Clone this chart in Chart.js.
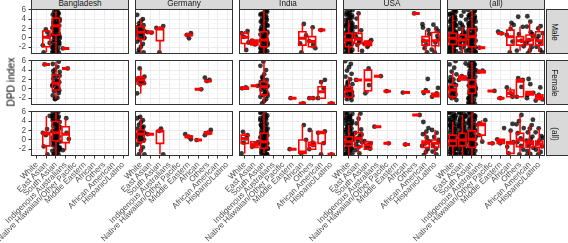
<!DOCTYPE html>
<html>
<head>
<meta charset="utf-8">
<script src="https://cdn.jsdelivr.net/npm/chart.js@4.4.0/dist/chart.umd.min.js"></script>
<style>
  body { margin: 0; background: #fff; width: 568px; height: 243px; overflow: hidden; position: relative; font-family: "Liberation Sans", Arial, sans-serif; }
  canvas { position: absolute; left: 0; top: 0; }
  .frame { position: absolute; border: 1px solid #333; box-sizing: border-box; pointer-events: none; }
  .strip { position: absolute; background: #d9d9d9; border: 1px solid #333; box-sizing: border-box; color: #1a1a1a; font-size: 8.2px; overflow: hidden; }
  .lbl { position: absolute; white-space: nowrap; transform-origin: center; font-weight: normal; }
</style>
</head>
<body>
<script>
const groups = ['White', 'East Asian', 'South Asian', 'Indigenous Australians', 'Native Hawaiian/Other Pacific',
  'Middle Eastern', 'African', 'Others', 'African American', 'Hispanic/Latino'];
const countries = ['Bangladesh', 'Germany', 'India', 'USA', '(all)'];
const sexes = ['Male', 'Female', '(all)'];
const yTicks = [-3, -2, -1, 0, 1, 2, 3, 4, 5, 6];

// hand-picked horizontal jitter offsets (in category units)
const jitter = [-0.28, 0.11, 0.34, -0.06, -0.37, 0.22, 0.02, -0.19, 0.29, -0.33, 0.15, -0.11, 0.38, -0.24, 0.07];

// dense point clouds
const cloudFull = [5.9, 5.55, 5.2, 4.95, 4.6, 4.35, 4.05, 3.8, 3.45, 3.2, 2.95, 2.6, 2.4, 2.1, 1.85, 1.5, 1.3, 0.95, 0.7, 0.45,
  0.15, -0.1, -0.4, -0.6, -0.95, -1.2, -1.45, -1.8, -2.0, -2.35, -2.6, -2.85, -3.15, -3.3, 5.75, 4.8, 3.6, 2.75, 1.65, 0.6,
  -0.25, -1.05, -1.95, -2.95, 5.1, 3.0, 1.0, -0.8, -2.2, 4.2, 2.2, 0.3, -1.6, -3.0];
const cloudMid = [5.6, 4.7, 3.9, 3.2, 2.35, 1.9, 1.4, 0.9, 0.6, 0.2, -0.2, -0.45, -0.8, -1.1, -1.55, -1.9, -2.3, -2.8, -3.3, 0.4, -1.3, 1.1, -0.6, 2.8];

// boxes: [group, lower whisker, q1, median, q3, upper whisker]
// points: [group, [values]]
const bgdMaleBox = [[2, -3.1, -1.9, 0.1, 1.45, 1.8], [3, -3.3, 0.6, 2.6, 4.2, 5.8], [4, -2.25, -2.25, -2.25, -2.25, -2.25]];
const bgdMalePts = [[2, [-3.1, 1.2, -1.1, 1.8, -1.6, 0.3]], [3, cloudFull], [4, [-2.25]]];
const bgdFemaleBox = [[2, 5.2, 5.2, 5.2, 5.2, 5.2], [3, -2.2, -0.25, 1.2, 2.9, 5.8], [4, 4.35, 4.35, 4.35, 4.35, 4.35]];
const bgdFemalePts = [[2, [5.2]], [3, [5.8, 5.3, 4.7, 4.1, 3.6, 3.0, 2.7, 2.2, 1.8, 1.4, 1.0, 0.6, 0.3, -0.1, -0.5, -0.9, -1.4, -1.9, -2.2, 2.8, 1.2, 0.1, 3.8, 1.6, -0.3, -2.1, 0.8]], [4, [4.35]]];
const bgdAllBox = [[2, -3.2, -1.3, 1.3, 1.6, 5.1], [3, -3.3, -0.2, 1.5, 3.9, 5.9], [4, -2.2, -0.6, 1.2, 2.8, 4.6]];
const bgdAllPts = [[2, [2.3, -1.4, -3.1, 5.1, 1.0, 1.5]], [3, cloudFull], [4, [4.6, -2.2, 1.5, 0.2]]];

const deuMaleBox = [[1, -3.1, -0.3, 1.2, 2.4, 4.0], [2, 1.2, 1.2, 1.2, 1.2, 1.2], [3, -3.1, -0.6, 1.9, 2.1, 2.5], [6, 0.4, 0.5, 0.6, 0.7, 0.9]];
const deuMalePts = [[1, [4.9, 4.0, 3.6, 3.1, 2.7, 2.3, 2.0, 1.7, 1.4, 1.1, 0.8, 0.5, 0.2, -0.1, -0.4, -0.8, -1.3, -1.9, -2.5, -3.1, 1.5, 0.9, 2.5, 0.0, -3.1, 1.2]],
  [2, [1.2, 1.1]], [3, [2.5, -3.1, 2.1]], [6, [1.0, -0.1, 0.6]]];
const deuFemaleBox = [[1, -1.0, 1.0, 1.9, 2.45, 4.35], [7, -0.1, -0.1, -0.1, -0.1, -0.1], [8, 1.65, 1.65, 1.65, 1.65, 1.65]];
const deuFemalePts = [[1, [4.35, 2.6, 2.3, 2.0, 1.8, 1.5, 1.2, 0.9, -0.95, 2.2, 1.6, 1.9]], [7, [-0.1]], [8, [2.4, 1.9, 1.65]]];
const deuAllBox = [[1, -3.1, -0.5, 1.25, 2.1, 4.6], [2, 1.2, 1.2, 1.2, 1.2, 1.2], [3, -3.1, -0.75, 1.9, 1.95, 2.4],
  [6, 0.1, 0.5, 0.65, 0.8, 1.2], [7, -0.05, -0.05, -0.05, -0.05, -0.05], [8, 1.0, 1.3, 1.5, 1.7, 2.1]];
const deuAllPts = [[1, [4.9, 4.6, 4.2, 3.7, 3.2, 2.8, 2.4, 2.1, 1.8, 1.5, 1.2, 0.9, 0.6, 0.3, 0.0, -0.5, -1.0, -1.6, -2.3, -3.1, 1.4, 0.7, 2.6, -0.2, -3.1, 1.1, 1.9]],
  [2, [1.2]], [3, [2.4, -3.1, 1.9]], [6, [1.2, 0.1, 0.65]], [7, [-0.05]], [8, [2.1, 1.0, 1.5]]];

const indMaleBox = [[1, -2.6, -1.2, 0.1, 0.95, 1.45], [2, -1.5, -1.5, -1.0, -0.5, -0.5], [3, -3.3, -1.9, -0.45, 1.3, 5.9],
  [7, -3.1, -1.55, -0.1, 1.3, 2.95], [8, -2.2, -1.9, -0.8, 0.25, 2.25], [9, 1.65, 1.65, 1.65, 1.65, 1.65]];
const indMalePts = [[1, [1.45, 1.0, -2.6, 0.2, -1.0]], [2, [-0.6, -1.4, -1.0]], [3, cloudFull], [7, [2.95, -3.1, 0.5, -1.2]], [8, [2.25, -0.7, -1.5, -2.2]], [9, [1.65]]];
const indFemaleBox = [[1, -0.1, -0.1, 0.1, 0.3, 0.3], [2, 0.65, 0.65, 0.65, 0.65, 0.65], [3, -3.1, -1.3, 0.45, 1.5, 5.8],
  [6, -2, -2, -2, -2, -2], [7, -3.1, -3.1, -3.1, -3.1, -3.1], [8, -2, -2, -2, -2, -2], [9, -2.0, -2.0, -0.6, 0.45, 1.9], [10, -3.1, -3.1, -3.1, -3.1, -3.1]];
const indFemalePts = [[1, [0.1, 0.3]], [2, [0.65]],
  [3, [5.8, 4.9, 4.0, 3.1, 2.5, 1.9, 1.5, 1.2, 0.9, 0.6, 0.4, 0.1, -0.2, -0.6, -1.0, -1.3, -1.7, -2.2, -2.6, -3.1, 0.5, 1.0, -0.8, 2.2, -1.5]],
  [6, [-2]], [7, [-3.1]], [8, [-2, -2]], [9, [1.9, 1.45, -2.0, 0.1]], [10, [-3.1]]];
const indAllBox = [[1, -2.9, -0.75, 0.3, 1.0, 1.7], [2, -1.6, -1.6, -1.0, -0.4, -0.4], [3, -2.9, -1.8, -0.4, 1.4, 6.0],
  [6, -2, -2, -2, -2, -2], [7, -2.9, -2.9, -2.6, -0.05, 3.15], [8, -2.0, -2.0, -1.1, -0.55, 2.1], [9, -3.1, -0.75, 1.5, 1.75, 1.8], [10, -3.1, -3.1, -3.1, -3.1, -3.1]];
const indAllPts = [[1, [1.7, 1.0, -2.9, 0.3, -0.6]], [2, [-0.5, -1.5, -1.0]], [3, cloudFull], [6, [-2]], [7, [3.15, -2.9, 0.0]],
  [8, [2.1, -0.6, -2.0, -1.1]], [9, [1.8, -3.1, 1.5, -0.7]], [10, [-3.1]]];

const usaMaleBox = [[1, -3.3, -1.9, -0.45, 0.95, 3.8], [2, -3.0, -1.2, -0.3, 0.95, 5.2], [3, -1.9, -1.6, -1.2, -0.7, -0.5],
  [8, 5.2, 5.2, 5.2, 5.2, 5.2], [9, -3.1, -1.55, -0.6, 0.25, 1.65], [10, -3.1, -1.7, -0.6, 1.15, 2.0]];
const usaMalePts = [[1, cloudFull], [2, [5.2, 4.1, 1.6, 0.8, -0.3, -1.5, -2.8, 0.2, -1.0, 2.3, -0.6]], [3, [-0.5, -1.9, -1.3, -0.8, -1.6]],
  [8, [5.2]], [9, [1.65, 2.9, -3.1, -2.2, 0.8, -0.6, -1.4, 2.2]], [10, [2.0, 1.4, -3.1, -2.5, 0.4, -1.0, 2.8, -0.3]]];
const usaFemaleBox = [[1, -2.4, -1.8, -0.4, 0.3, 2.6], [2, 1.9, 1.9, 1.9, 1.9, 1.9], [3, -0.95, -0.4, 1.9, 4.0, 4.35], [4, 2.7, 2.7, 2.7, 2.7, 2.7],
  [5, -0.5, -0.5, -0.5, -0.5, -0.5], [7, -0.8, -0.8, -0.8, -0.8, -0.8], [9, -0.9, -0.7, -0.6, -0.5, -0.3], [10, -1.7, -1.7, -1.3, -0.95, -0.95]];
const usaFemalePts = [[1, [5.9, 5.3, 4.6, 3.9, 3.2, 2.6, 2.0, 1.5, 1.0, 0.5, 0.2, -0.1, -0.4, -0.7, -1.0, -1.3, -1.6, -1.9, -2.2, -2.4, 0.0, -0.8, 1.2, -1.5]],
  [2, [1.9]], [3, [4.35, -0.95, 0.8]], [4, [2.7]], [5, [-0.5]], [7, [-0.8]], [9, [2.1, -0.3, -0.9]], [10, [0.2, -1.7, -0.95]]];
const usaAllBox = [[1, -3.3, -1.3, -0.4, 0.65, 3.15], [2, -2.9, -1.5, 0.3, 1.5, 5.6], [3, -2.0, -2.0, -1.1, -0.4, -0.2], [4, 2.8, 2.8, 2.8, 2.8, 2.8],
  [5, -0.75, -0.75, -0.75, -0.75, -0.75], [7, -1, -1, -1, -1, -1], [8, 5.3, 5.3, 5.3, 5.3, 5.3], [9, -3.25, -1.6, -0.75, -0.25, 1.75], [10, -3.1, -1.6, -0.75, -0.05, 2.1]];
const usaAllPts = [[1, cloudFull], [2, [5.6, 4.5, 3.5, 2.2, 1.5, 0.9, 0.3, -0.5, -1.0, -1.5, -2.2, -2.9, 1.1, -0.2]], [3, [-0.3, -1.9, -1.1, -1.5, -0.7]],
  [4, [2.8]], [5, [-0.75]], [7, [-1]], [8, [5.3]], [9, [3.8, 1.75, 1.2, 0.5, -0.3, -0.8, -1.3, -2.0, -2.6, -3.25, 2.5]], [10, [2.1, 1.5, 0.6, -0.4, -1.1, -1.9, -2.5, -3.1, 0.0]]];

const allMaleBox = [[1, -3.3, -1.4, -0.1, 0.95, 4.85], [2, -3.3, -1.55, -0.45, 0.6, 2.35], [3, -3.3, -1.9, 0.25, 2.0, 5.9], [4, -2.1, -2.1, -2.1, -2.1, -2.1],
  [6, 0.95, 0.95, 0.95, 0.95, 0.95], [7, -3.1, -1.55, 0.25, 1.65, 2.75], [8, -2.75, -1.55, -0.6, 0.25, 2.35], [9, -3.3, -1.4, -0.45, 0.6, 3.45], [10, -3.1, -1.55, -0.6, 1.3, 2.5]];
const allMalePts = [[1, cloudFull], [2, cloudMid], [3, cloudFull], [4, [-2.1]], [6, [0.95, 1.3]], [7, [3.2, 2.75, -3.1, 0.6, -0.8, 1.9]],
  [8, [4.5, 2.35, -2.75, -0.6, 0.8, -1.8]], [9, [4.6, 3.45, 2.4, 1.2, 0.3, -0.5, -1.2, -2.0, -2.7, -3.3, 0.8, -0.9]], [10, [2.5, 2.0, 1.0, -0.2, -1.0, -1.9, -2.6, -3.1, 0.4]]];
const allFemaleBox = [[1, -2.4, -1.7, -0.25, 0.8, 3.65], [2, 1.9, 1.9, 2.3, 2.7, 2.7], [3, -3.1, -0.95, 0.45, 1.9, 5.8], [4, 3.4, 3.45, 3.65, 3.85, 3.9],
  [5, -0.45, -0.45, -0.45, -0.45, -0.45], [6, -2, -2, -2, -2, -2], [7, -1.7, -1.7, -0.95, -0.25, 0.3], [8, -1.7, -1.7, 1.6, 1.9, 2.3],
  [9, -1.3, -1.3, -0.85, -0.6, -0.6], [10, -2.25, -2.25, -1.8, -1.3, -1.3]];
const allFemalePts = [[1, [5.9, 5.2, 4.5, 3.65, 3.1, 2.5, 2.0, 1.5, 1.1, 0.8, 0.4, 0.1, -0.25, -0.6, -0.9, -1.2, -1.5, -1.7, -2.0, -2.4, 0.3, -1.0, 1.8, -0.5]],
  [2, [5.4, 2.7, 1.9, 2.3]], [3, cloudFull], [4, [3.65, 3.9]], [5, [-0.45]], [6, [-2]], [7, [0.3, -1.7, -0.95]], [8, [2.3, 1.9, -1.7, 0.4]],
  [9, [2.1, -0.85, -1.3, 1.0, -2.0]], [10, [0.3, -2.25, -1.3, -2.5]]];
const allAllBox = [[1, -3.3, -1.3, -0.2, 1.0, 3.85], [2, -3.3, -1.3, -0.05, 1.4, 5.3], [3, -3.3, -1.6, 0.1, 1.9, 5.9], [4, -0.4, 1.0, 3.2, 3.5, 4.2],
  [5, -0.75, -0.75, -0.75, -0.75, -0.75], [6, -0.75, -0.75, -0.3, 0.1, 0.1], [7, -2.9, -2.9, -0.75, -0.4, 1.95], [8, -3.1, -1.45, -0.05, 1.4, 5.3],
  [9, -3.3, -1.6, -0.75, -0.25, 3.15], [10, -3.1, -1.6, -0.9, -0.25, 2.45]];
const allAllPts = [[1, cloudFull], [2, cloudFull], [3, cloudFull], [4, [4.2, 3.5, -0.4, 1.0]], [5, [-0.75]], [6, [2.5, -0.75, 0.1]],
  [7, [3.4, 1.95, -2.9, -0.5, -1.5]], [8, [5.3, 4.0, 2.5, 1.4, 0.3, -0.5, -1.3, -2.1, -3.1, 3.3]],
  [9, [3.15, 2.4, 1.6, 0.7, -0.2, -0.7, -1.2, -1.7, -2.4, -3.0, -3.3, 0.2, 4.3]], [10, [2.45, 1.6, 0.8, -0.1, -0.8, -1.4, -2.1, -2.6, -3.1, 0.4]]];

const panelBoxes = [
  [bgdMaleBox, deuMaleBox, indMaleBox, usaMaleBox, allMaleBox],
  [bgdFemaleBox, deuFemaleBox, indFemaleBox, usaFemaleBox, allFemaleBox],
  [bgdAllBox, deuAllBox, indAllBox, usaAllBox, allAllBox]
];
const panelPoints = [
  [bgdMalePts, deuMalePts, indMalePts, usaMalePts, allMalePts],
  [bgdFemalePts, deuFemalePts, indFemalePts, usaFemalePts, allFemalePts],
  [bgdAllPts, deuAllPts, indAllPts, usaAllPts, allAllPts]
];

// layout
const W = 568, H = 243;
const colLeft = [31, 135, 239, 343, 447];
const rowTop = [9, 60, 111];
const panelW = 98, panelH = 45;
const red = '#ff0000';
const font = { family: 'Liberation Sans', size: 8.2 };

function addDiv(cls, css, html) {
  const d = document.createElement('div');
  d.className = cls;
  Object.assign(d.style, css);
  if (html) d.innerHTML = html;
  document.body.appendChild(d);
  return d;
}

function makePanel(r, c) {
  const L = colLeft[c], T = rowTop[r];
  const first = c === 0, bottom = r === 2;
  const below = H - T - panelH;
  const rect = [], med = [], whisk = [], dots = [];
  const hw = 0.375;
  panelBoxes[r][c].forEach(([g, lo, q1, m, q3, hi]) => {
    rect.push({ x: g - hw, y: q1 }, { x: g + hw, y: q1 }, { x: g + hw, y: q3 }, { x: g - hw, y: q3 }, { x: g - hw, y: q1 }, { x: g + hw, y: q1 }, { x: g, y: null });
    med.push({ x: g - hw, y: m }, { x: g + hw, y: m }, { x: g, y: null });
    whisk.push({ x: g, y: lo }, { x: g, y: q1 }, { x: g, y: null }, { x: g, y: q3 }, { x: g, y: hi }, { x: g, y: null });
  });
  let k = r * 7 + c * 4;
  panelPoints[r][c].forEach(([g, ys]) => ys.forEach(y => {
    dots.push({ x: g + jitter[k % jitter.length], y });
    k++;
  }));

  const cv = document.createElement('canvas');
  cv.width = W; cv.height = H;
  document.body.appendChild(cv);

  const lineSet = (data, width) => ({ data, showLine: true, borderColor: red, borderWidth: width, pointRadius: 0, pointHoverRadius: 0, clip: 0, borderCapStyle: 'butt', borderJoinStyle: 'miter' });

  new Chart(cv, {
    type: 'scatter',
    data: {
      datasets: [
        lineSet(med, 3),
        lineSet(rect, 1.6),
        lineSet(whisk, 1.5),
        { data: dots, pointRadius: 2.4, backgroundColor: 'rgba(0,0,0,0.78)', pointBorderWidth: 0, clip: 0 }
      ]
    },
    options: {
      responsive: false,
      animation: false,
      devicePixelRatio: 1,
      events: [],
      // the axis boxes that carry labels take up the space, other panels are placed by padding
      layout: { padding: { left: first ? 0 : L, top: T, right: W - L - panelW, bottom: bottom ? 0 : below } },
      plugins: { legend: { display: false }, tooltip: { enabled: false } },
      scales: {
        x: {
          type: 'linear', min: 0.4, max: 10.6,
          afterBuildTicks: s => { s.ticks = groups.map((g, i) => ({ value: i + 1 })); },
          afterFit: s => { s.height = bottom ? below : 0; s.paddingLeft = 0; s.paddingRight = 0; },
          border: { display: false },
          grid: { color: '#ebebeb', lineWidth: 1, drawTicks: bottom, tickLength: 2.5, tickColor: '#333' },
          ticks: {
            display: bottom, autoSkip: false, minRotation: 45, maxRotation: 45, padding: 1.5,
            color: '#4d4d4d', font, callback: v => groups[v - 1]
          }
        },
        y: {
          min: -3.45, max: 6.15,
          afterBuildTicks: s => { s.ticks = yTicks.map(v => ({ value: v })); },
          afterFit: s => { s.width = first ? L : 0; s.paddingTop = 0; s.paddingBottom = 0; },
          border: { display: false },
          grid: {
            color: ctx => (ctx.tick && ctx.tick.value % 2 === 0) ? '#ebebeb' : '#f5f5f5',
            lineWidth: ctx => (ctx.tick && ctx.tick.value % 2 === 0) ? 1 : 0.6,
            drawTicks: first, tickLength: 2.5,
            tickColor: ctx => (ctx.tick && ctx.tick.value % 2 === 0) ? '#333' : 'rgba(0,0,0,0)'
          },
          ticks: {
            display: first, autoSkip: false, padding: 2.5, color: '#4d4d4d', font,
            callback: v => (v % 2 === 0 ? String(v) : '')
          }
        }
      }
    }
  });

  addDiv('frame', { left: L + 'px', top: T + 'px', width: panelW + 'px', height: panelH + 'px' });
}

for (let r = 0; r < 3; r++) {
  for (let c = 0; c < 5; c++) makePanel(r, c);
}

// column strips (top)
countries.forEach((name, c) => {
  const s = addDiv('strip', { left: colLeft[c] + 'px', top: '-6px', width: panelW + 'px', height: '16px' });
  const t = document.createElement('span');
  t.className = 'lbl';
  t.textContent = name;
  Object.assign(t.style, { left: '50%', top: '7.5px', transform: 'translate(-50%,-50%)' });
  s.appendChild(t);
});

// row strips (right)
sexes.forEach((name, r) => {
  const s = addDiv('strip', { left: '546px', top: rowTop[r] + 'px', width: '30px', height: panelH + 'px' });
  const t = document.createElement('span');
  t.className = 'lbl';
  t.textContent = name;
  Object.assign(t.style, { left: '7px', top: '50%', transform: 'translate(-50%,-50%) rotate(90deg)' });
  s.appendChild(t);
});

// y axis title
const yt = addDiv('lbl', { left: '11px', top: '82px', fontSize: '10.3px', color: '#000', transform: 'translate(-50%,-50%) rotate(-90deg)' });
yt.textContent = 'DPD index';
</script>
</body>
</html>
